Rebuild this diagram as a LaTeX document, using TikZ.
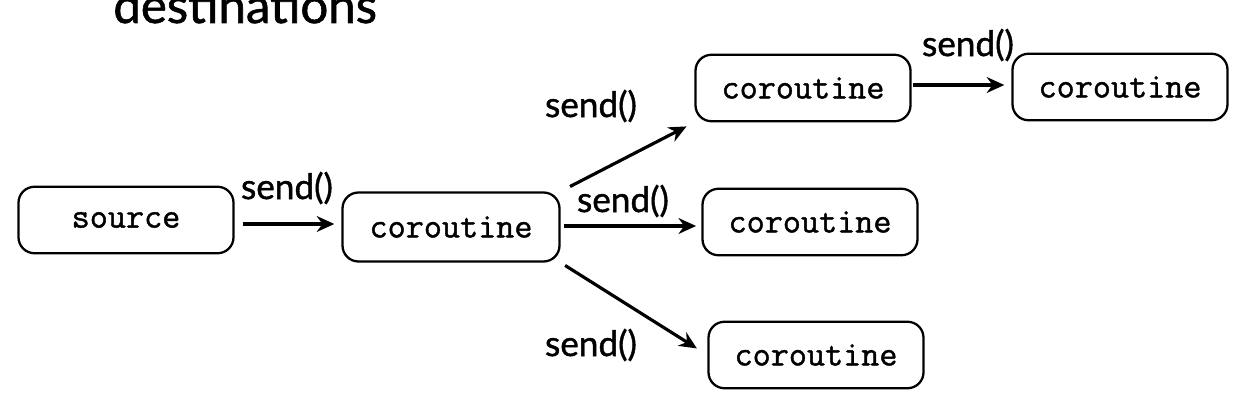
\documentclass[tikz,border=0pt]{standalone}
\usepackage{fontspec}
\setmainfont{Lato}
\setmonofont{Latin Modern Mono}[FakeBold=1.2]
\newfontfamily\sendfont{Lato}[FakeBold=1.2]
\usepackage{tikz}
\usetikzlibrary{arrows.meta}

\tikzset{
    corobox/.style={draw,line width=1.3pt,rounded corners=0.32cm,
        minimum width=4.3cm,minimum height=1.33cm,
        font=\ttfamily\fontsize{20}{22}\selectfont},
    sendarrow/.style={-{Stealth[length=10pt,width=9pt]},line width=1.8pt},
    sendlabel/.style={font=\sendfont\fontsize{20}{24}\selectfont,inner sep=0pt}
}

\begin{document}
\begin{tikzpicture}[scale=1]
    \useasboundingbox (0,0) rectangle (25.08,-8.2);
    \clip (0,0) rectangle (25.08,-8.2);
    \node[anchor=base west,font=\sendfont\fontsize{28}{32}\selectfont,inner sep=0pt] (title) at (2.26,-0.46) {destinations};
    \node[corobox] (source) at (2.52,-4.40) {source};
    \node[corobox,minimum width=4.34cm,minimum height=1.38cm] (co1) at (9.02,-4.54) {coroutine};
    \node[corobox] (top) at (16.06,-1.76) {coroutine};
    \node[corobox] (topright) at (22.40,-1.74) {coroutine};
    \node[corobox] (mid) at (16.20,-4.44) {coroutine};
    \node[corobox] (bottom) at (16.32,-7.10) {coroutine};
    \node[sendlabel] (l1) at (5.74,-3.76) {send()};
    \node[sendlabel] (l2) at (11.82,-2.12) {send()};
    \node[sendlabel] (l3) at (12.46,-4.02) {send()};
    \node[sendlabel] (l4) at (11.82,-6.90) {send()};
    \node[sendlabel] (l5) at (19.36,-0.90) {send()};
    \draw[sendarrow,shorten <=5pt,shorten >=4pt] (source.east |- 0,-4.48) -- (co1.west |- 0,-4.48);
    \draw[sendarrow,shorten <=6pt,shorten >=5pt] (co1.north east) -- (top.south west);
    \draw[sendarrow,shorten <=2pt,shorten >=3pt] (co1.east |- 0,-4.52) -- (mid.west |- 0,-4.52);
    \draw[sendarrow,shorten <=3pt,shorten >=7pt] (co1.south east) -- (bottom.west);
    \draw[sendarrow,shorten <=1pt,shorten >=4pt] (top.east |- 0,-1.70) -- (topright.west |- 0,-1.70);
\end{tikzpicture}
\end{document}
